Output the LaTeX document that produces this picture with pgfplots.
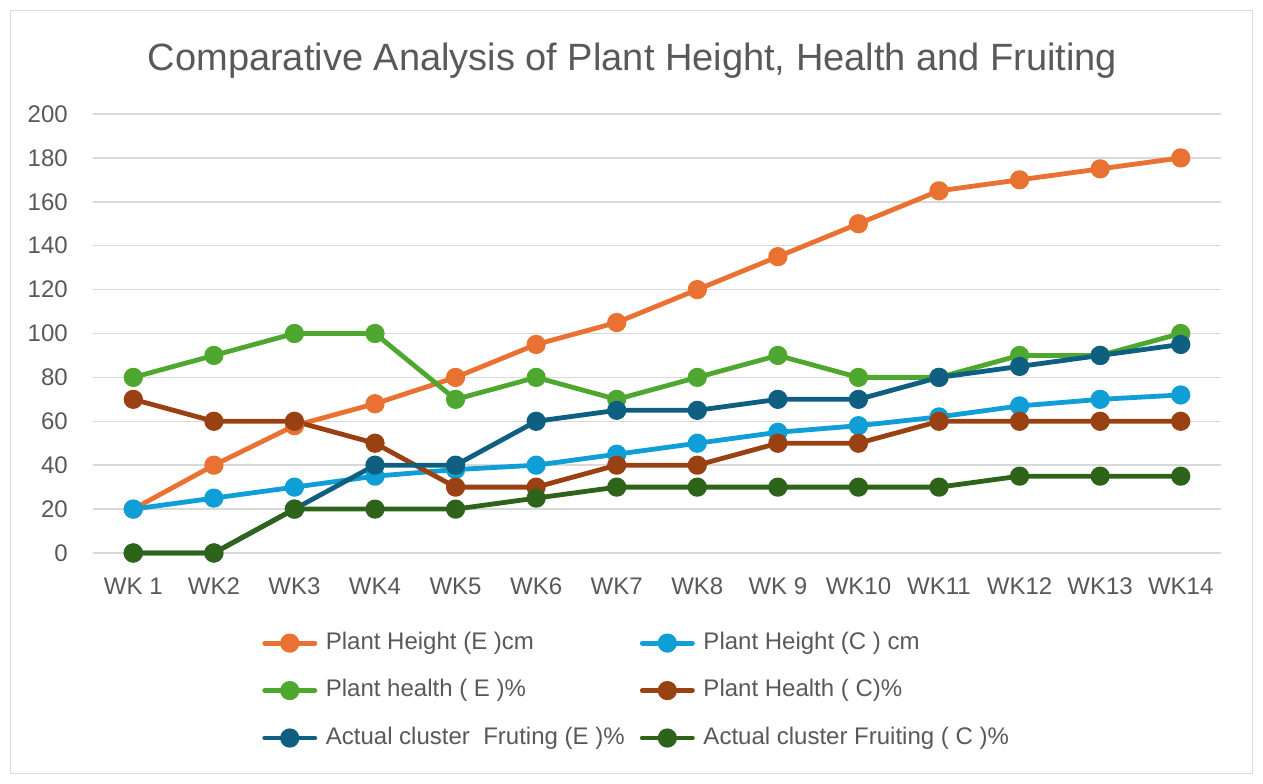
\documentclass[border=0pt]{standalone}
\usepackage{pgfplots}
\pgfplotsset{compat=1.18}
\usepackage{pgfplotstable}
\usepackage{fontspec}
\setmainfont{Liberation Sans}

\definecolor{txt}{HTML}{595959}
\definecolor{gridc}{HTML}{D9D9D9}
\definecolor{frame}{HTML}{D9D9D9}
\definecolor{orangeE}{HTML}{E97132}
\definecolor{blueC}{HTML}{0F9ED5}
\definecolor{greenE}{HTML}{4EA72E}
\definecolor{brownC}{HTML}{9A4113}
\definecolor{navyE}{HTML}{0E5F80}
\definecolor{dgreenC}{HTML}{2E6419}

% week, height E, height C, health E, health C, fruiting E, fruiting C
\pgfplotstableread{
wk hE  hC  heE heC fE fC
1  20  20  80  70  0  0
2  40  25  90  60  0  0
3  58  30  100 60  20 20
4  68  35  100 50  40 20
5  80  38  70  30  40 20
6  95  40  80  30  60 25
7  105 45  70  40  65 30
8  120 50  80  40  65 30
9  135 55  90  50  70 30
10 150 58  80  50  70 30
11 165 62  80  60  80 30
12 170 67  90  60  85 35
13 175 70  90  60  90 35
14 180 72  100 60  95 35
}\datatable

\begin{document}
\begin{tikzpicture}
\useasboundingbox (0,0) rectangle (947.25pt,588pt);
\draw[frame,line width=1.1pt,fill=white] (7.875pt,7.875pt) rectangle (939.375pt,580.125pt);
\node[txt,font=\fontsize{28.5}{34}\selectfont] at (474.4pt,542.5pt) {Comparative Analysis of Plant Height, Health and Fruiting};
\begin{axis}[
  at={(69.75pt,173.25pt)}, anchor=south west,
  scale only axis, width=846pt, height=329.25pt,
  xmin=0.5, xmax=14.5, ymin=0, ymax=200,
  ytick={0,20,...,200},
  xtick={1,...,14},
  xticklabels={WK 1,WK2,WK3,WK4,WK5,WK6,WK7,WK8,WK 9,WK10,WK11,WK12,WK13,WK14},
  axis line style={draw=none},
  tick style={draw=none},
  ymajorgrids, major grid style={gridc,line width=1.1pt},
  ticklabel style={txt,font=\fontsize{18}{21}\selectfont},
  /pgf/number format/assume math mode=true,
  yticklabel style={inner sep=0pt,xshift=-18.75pt},
  xticklabel style={inner sep=0pt,yshift=-18.5pt},
  clip=false,
  every axis plot/.append style={line width=3.6pt,line join=round,line cap=round,
     mark=*,mark size=5.4pt,mark options={solid,line width=0pt}},
  legend columns=2,
  legend cell align=left,
  legend style={at={(0.1463,-0.172)},anchor=north west,draw=none,fill=none,
     font=\fontsize{18}{21}\selectfont,text=txt,
     nodes={inner sep=0pt,text height=13.5pt,text depth=4pt},
     column sep=6.5pt,row sep=18.1pt},
  legend image code/.code={
     \draw[mark repeat=2,mark phase=2,#1] plot coordinates {(1.8pt,0pt) (20.6pt,0pt) (39.4pt,0pt)};},
]
\addplot[orangeE,mark options={fill=orangeE}] table[x=wk,y=hE] {\datatable};
\addlegendentry{\makebox[229pt][l]{Plant Height (E )cm}}
\addplot[blueC,mark options={fill=blueC}] table[x=wk,y=hC] {\datatable};
\addlegendentry{Plant Height (C ) cm}
\addplot[greenE,mark options={fill=greenE}] table[x=wk,y=heE] {\datatable};
\addlegendentry{\makebox[229pt][l]{Plant health ( E )\%}}
\addplot[brownC,mark options={fill=brownC}] table[x=wk,y=heC] {\datatable};
\addlegendentry{Plant Health ( C)\%}
\addplot[navyE,mark options={fill=navyE}] table[x=wk,y=fE] {\datatable};
\addlegendentry{\makebox[229pt][l]{Actual cluster\ \ Fruting (E )\%}}
\addplot[dgreenC,mark options={fill=dgreenC}] table[x=wk,y=fC] {\datatable};
\addlegendentry{Actual cluster Fruiting ( C )\%}
\end{axis}
\end{tikzpicture}
\end{document}
